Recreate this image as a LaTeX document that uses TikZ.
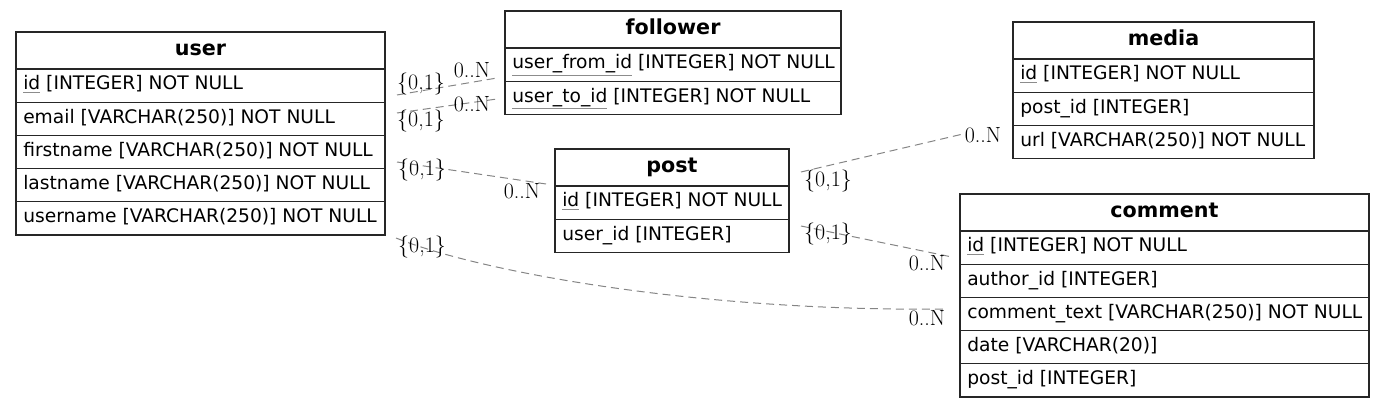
\documentclass[tikz,border=0pt]{standalone}
\usepackage{fontspec}
\newfontfamily\dv{DejaVu Sans}
\newcommand\pk[1]{{\color{black!45}$\underline{\hbox{\color{black}#1}}$}}
\tikzset{
  tbl/.style={draw=black!85, line width=1pt, inner sep=0pt, outer sep=0pt, anchor=north west},
  hbox/.style={tbl, minimum height=27.75pt},
  rbox/.style={tbl, minimum height=24.9pt},
  htext/.style={anchor=base, inner sep=0pt, font=\dv\bfseries\fontsize{15.5}{18}\selectfont},
  ftext/.style={anchor=base west, inner sep=0pt, font=\dv\fontsize{14}{16}\selectfont},
  card/.style={inner sep=0pt, font=\fontsize{16.5}{18}\selectfont},
  rel/.style={draw=black!48, line width=0.75pt, dash pattern=on 6pt off 3.75pt},
}
\newcommand\erhdr[5]{\node[hbox, minimum width={#4*0.75pt}] (#1) at (#2,#3) {};
  \node[htext] (#1-t) at ({#2+#4/2},{#3+24}) {#5};}
\newcommand\erfld[5]{\node[rbox, minimum width={#4*0.75pt}] (#1) at (#2,#3) {};
  \node[ftext] (#1-t) at ({#2+7},{#3+21}) {#5};}
\begin{document}
\begin{tikzpicture}[x=0.75pt, y=-0.75pt]
\useasboundingbox (0,0) rectangle (1385,409);

% user
\erhdr{user}{16}{32}{369}{user}
\erfld{user-id}{16}{69}{369}{\pk{id} [INTEGER] NOT NULL}
\erfld{user-email}{16}{102.2}{369}{email [VARCHAR(250)] NOT NULL}
\erfld{user-first}{16}{135.4}{369}{firstname [VARCHAR(250)] NOT NULL}
\erfld{user-last}{16}{168.6}{369}{lastname [VARCHAR(250)] NOT NULL}
\erfld{user-name}{16}{201.8}{369}{username [VARCHAR(250)] NOT NULL}

% follower
\erhdr{fol}{505}{11}{336}{follower}
\erfld{fol-from}{505}{48}{336}{\pk{user\_from\_id} [INTEGER] NOT NULL}
\erfld{fol-to}{505}{81.2}{336}{\pk{user\_to\_id} [INTEGER] NOT NULL}

% post
\erhdr{post}{555}{149}{234}{post}
\erfld{post-id}{555}{186}{234}{\pk{id} [INTEGER] NOT NULL}
\erfld{post-uid}{555}{219.2}{234}{user\_id [INTEGER]}

% media
\erhdr{media}{1013}{22}{301}{media}
\erfld{media-id}{1013}{59}{301}{\pk{id} [INTEGER] NOT NULL}
\erfld{media-pid}{1013}{92.2}{301}{post\_id [INTEGER]}
\erfld{media-url}{1013}{125.4}{301}{url [VARCHAR(250)] NOT NULL}

% comment
\erhdr{com}{960}{194}{409}{comment}
\erfld{com-id}{960}{231}{409}{\pk{id} [INTEGER] NOT NULL}
\erfld{com-aid}{960}{264.2}{409}{author\_id [INTEGER]}
\erfld{com-text}{960}{297.4}{409}{comment\_text [VARCHAR(250)] NOT NULL}
\erfld{com-date}{960}{330.6}{409}{date [VARCHAR(20)]}
\erfld{com-pid}{960}{363.8}{409}{post\_id [INTEGER]}

% connectors
\coordinate (e1a) at (397,95);  \coordinate (e1b) at (497,78);
\coordinate (e2a) at (397,113); \coordinate (e2b) at (497,99);
\coordinate (e3a) at (397,162); \coordinate (e3b) at (546,184);
\coordinate (e4a) at (801,172); \coordinate (e4b) at (963,134);
\coordinate (e5a) at (801,226); \coordinate (e5b) at (952,257);
\coordinate (e6a) at (396,238); \coordinate (e6b) at (947,309);
\draw[rel] (e1a) -- (e1b);
\draw[rel] (e2a) -- (e2b);
\draw[rel] (e3a) -- (e3b);
\draw[rel] (e4a) -- (e4b);
\draw[rel] (e5a) -- (e5b);
\draw[rel] (e6a) .. controls (480,272) and (700,312) .. (e6b);

% cardinalities
\node[card] (c1t) at (421,84)  {\{0,1\}};
\node[card] (c1h) at (472,70)  {0..N};
\node[card] (c2t) at (421,121) {\{0,1\}};
\node[card] (c2h) at (472,104) {0..N};
\node[card] (c3t) at (422,170) {\{0,1\}};
\node[card] (c3h) at (522,191) {0..N};
\node[card] (c4t) at (828,181) {\{0,1\}};
\node[card] (c4h) at (983,135) {0..N};
\node[card] (c5t) at (828,234) {\{0,1\}};
\node[card] (c5h) at (927,263) {0..N};
\node[card] (c6t) at (422,247) {\{0,1\}};
\node[card] (c6h) at (927,318) {0..N};
\end{tikzpicture}
\end{document}
